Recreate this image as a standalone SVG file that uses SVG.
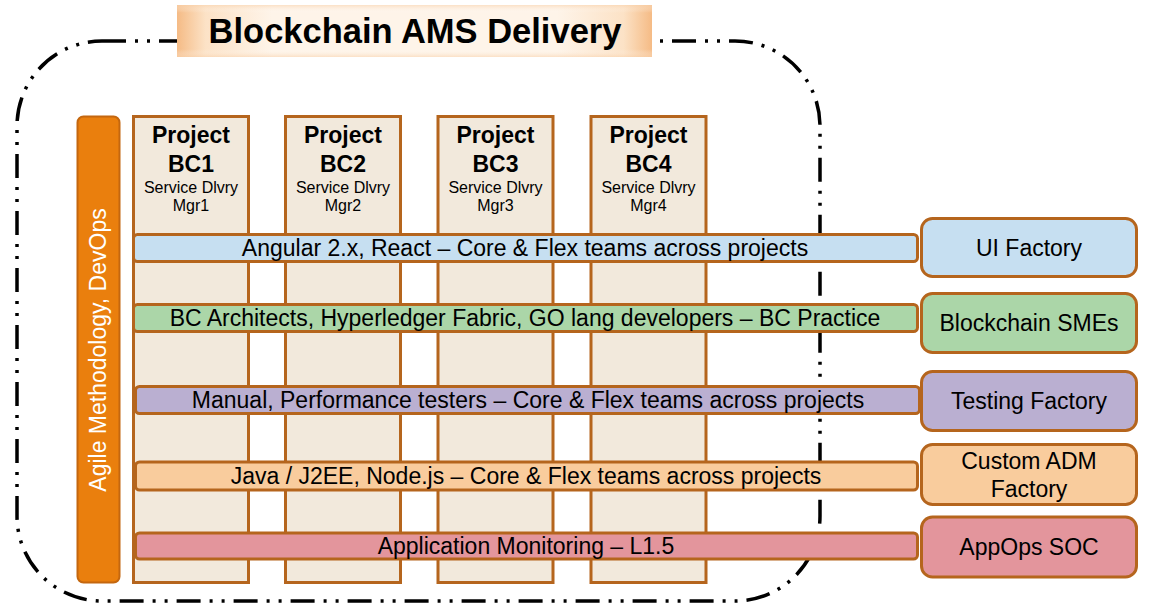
<svg xmlns="http://www.w3.org/2000/svg" width="1150" height="616" viewBox="0 0 1150 616">
<defs>
<linearGradient id="titleGrad" x1="0" y1="0" x2="1" y2="0">
<stop offset="0" stop-color="#F5BB85"/>
<stop offset="0.06" stop-color="#FCE2C6"/>
<stop offset="0.2" stop-color="#FEF4E9"/>
<stop offset="0.8" stop-color="#FEF4E9"/>
<stop offset="0.94" stop-color="#FCE2C6"/>
<stop offset="1" stop-color="#F5BB85"/>
</linearGradient>
<linearGradient id="titleGradV" x1="0" y1="0" x2="0" y2="1">
<stop offset="0" stop-color="#F9D3AE" stop-opacity="0.6"/>
<stop offset="0.15" stop-color="#FFFFFF" stop-opacity="0"/>
<stop offset="0.85" stop-color="#FFFFFF" stop-opacity="0"/>
<stop offset="1" stop-color="#F9D3AE" stop-opacity="0.6"/>
</linearGradient>
</defs>
<style>
text{font-family:"Liberation Sans",Arial,sans-serif;fill:#000;}
.border{fill:none;stroke:#000;stroke-width:3.5;stroke-dasharray:24 9 3 9 3 9;}
.col{fill:#F2E9DC;stroke:#B5651D;stroke-width:3;}
.bar{stroke:#B5651D;stroke-width:3;}
.box{stroke:#B5651D;stroke-width:3;}
.blue{fill:#C6DFF1;}
.green{fill:#ABD6A8;}
.purple{fill:#BAAFD1;}
.peach{fill:#F9CC9D;}
.pink{fill:#E3959C;}
.pt{font-size:23px;font-weight:bold;text-anchor:middle;}
.ps{font-size:16px;text-anchor:middle;}
.bt{font-size:23px;text-anchor:middle;}
.rt{font-size:23px;text-anchor:middle;}
</style>
<rect width="1150" height="616" fill="#FFFFFF"/>
<rect class="border" x="17" y="41" width="803" height="560" rx="85" ry="85"/>
<g id="title">
<rect x="177" y="5" width="475" height="52" fill="url(#titleGrad)"/>
<rect x="177" y="5" width="475" height="52" fill="url(#titleGradV)"/>
<text x="415" y="43" style="font-size:34.5px;font-weight:bold;text-anchor:middle;">Blockchain AMS Delivery</text>
</g>
<g id="agile">
<rect x="77.5" y="116.5" width="42" height="466" rx="6" fill="#EA7F0D" stroke="#C4670F" stroke-width="2"/>
<text transform="translate(106,350) rotate(-90)" style="font-size:23px;text-anchor:middle;fill:#FFFFFF;">Agile Methodology, DevOps</text>
</g>
<g id="project-bc1">
<rect class="col" x="133.5" y="116.5" width="115" height="466"/>
<text class="pt" x="191" y="143">Project</text>
<text class="pt" x="191" y="172">BC1</text>
<text class="ps" x="191" y="193">Service Dlvry</text>
<text class="ps" x="191" y="211">Mgr1</text>
</g>
<g id="project-bc2">
<rect class="col" x="285.5" y="116.5" width="115" height="466"/>
<text class="pt" x="343" y="143">Project</text>
<text class="pt" x="343" y="172">BC2</text>
<text class="ps" x="343" y="193">Service Dlvry</text>
<text class="ps" x="343" y="211">Mgr2</text>
</g>
<g id="project-bc3">
<rect class="col" x="438" y="116.5" width="115" height="466"/>
<text class="pt" x="495.5" y="143">Project</text>
<text class="pt" x="495.5" y="172">BC3</text>
<text class="ps" x="495.5" y="193">Service Dlvry</text>
<text class="ps" x="495.5" y="211">Mgr3</text>
</g>
<g id="project-bc4">
<rect class="col" x="591" y="116.5" width="115" height="466"/>
<text class="pt" x="648.5" y="143">Project</text>
<text class="pt" x="648.5" y="172">BC4</text>
<text class="ps" x="648.5" y="193">Service Dlvry</text>
<text class="ps" x="648.5" y="211">Mgr4</text>
</g>
<g id="bar-ui">
<rect class="bar blue" x="133.5" y="234.5" width="784" height="27" rx="4"/>
<text class="bt" x="525" y="256">Angular 2.x, React – Core &amp; Flex teams across projects</text>
</g>
<g id="bar-bc">
<rect class="bar green" x="133.5" y="304.5" width="784" height="27" rx="4"/>
<text class="bt" x="525" y="326">BC Architects, Hyperledger Fabric, GO lang developers – BC Practice</text>
</g>
<g id="bar-testing">
<rect class="bar purple" x="135.5" y="386.5" width="784" height="27" rx="4"/>
<text class="bt" x="528" y="408">Manual, Performance testers – Core &amp; Flex teams across projects</text>
</g>
<g id="bar-java">
<rect class="bar peach" x="135.5" y="462" width="782" height="28" rx="4"/>
<text class="bt" x="526" y="484">Java / J2EE, Node.js – Core &amp; Flex teams across projects</text>
</g>
<g id="bar-monitoring">
<rect class="bar pink" x="135.5" y="533" width="782" height="26" rx="4"/>
<text class="bt" x="526" y="554">Application Monitoring – L1.5</text>
</g>
<g id="ui-factory">
<rect class="box blue" x="921.5" y="218.5" width="215" height="58" rx="11"/>
<text class="rt" x="1029" y="256">UI Factory</text>
</g>
<g id="blockchain-smes">
<rect class="box green" x="921.5" y="293.5" width="215" height="59" rx="11"/>
<text class="rt" x="1029" y="331">Blockchain SMEs</text>
</g>
<g id="testing-factory">
<rect class="box purple" x="921.5" y="371.5" width="215" height="59" rx="11"/>
<text class="rt" x="1029" y="409">Testing Factory</text>
</g>
<g id="custom-adm-factory">
<rect class="box peach" x="921.5" y="444.5" width="215" height="60" rx="11"/>
<text class="rt" x="1029" y="469">Custom ADM</text>
<text class="rt" x="1029" y="497">Factory</text>
</g>
<g id="appops-soc">
<rect class="box pink" x="921.5" y="517" width="215" height="60" rx="11"/>
<text class="rt" x="1029" y="555">AppOps SOC</text>
</g>
<g id="connectors"/>
</svg>
